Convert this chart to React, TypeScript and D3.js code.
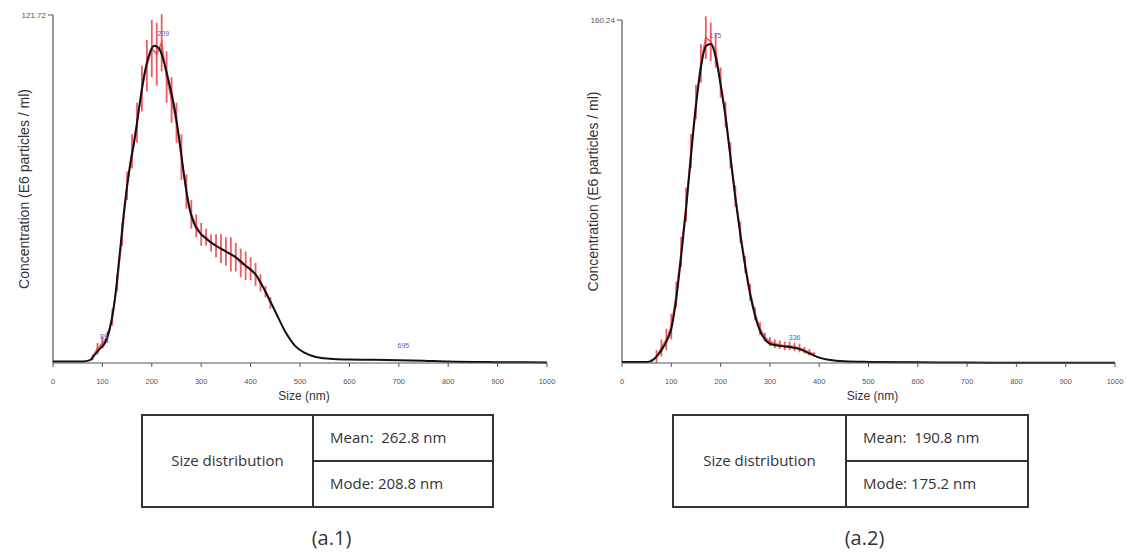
import React from 'react';
import * as d3 from 'd3';

// ---------- data ----------
const xTicks = [0, 100, 200, 300, 400, 500, 600, 700, 800, 900, 1000];

// (a.1)
const a1YMax = 121.72;
const a1Sizes = [0, 60, 75, 85, 95, 105, 115, 125, 135, 145, 155, 165, 175, 185, 195, 205, 215, 225, 235, 245, 255, 265, 275, 285, 295, 310, 330, 350, 370, 390, 410, 430, 450, 470, 490, 510, 530, 560, 600, 650, 700, 750, 800, 900, 1000];
const a1Conc = [0.5, 0.5, 1, 3, 5, 7, 12, 22, 38, 55, 68, 78, 90, 101, 108, 111, 110, 105, 98, 90, 79, 66, 55, 49, 46, 43.5, 41, 39, 37, 34, 31, 25, 18, 11, 6, 3.5, 2.2, 1.5, 1.2, 1.1, 1.0, 0.8, 0.5, 0.3, 0.2];
const a1ErrSizes = [80, 90, 100, 110, 120, 130, 140, 150, 160, 170, 180, 190, 200, 210, 220, 230, 240, 250, 260, 270, 280, 290, 300, 310, 320, 330, 340, 350, 360, 370, 380, 390, 400, 410, 420, 430, 440];
const a1ErrMean = [2, 5, 7, 9, 16, 28, 45, 62, 74, 84, 96, 104, 110, 108, 112, 100, 92, 84, 72, 60, 52, 48, 45, 44, 42, 41, 40, 39, 38, 37, 35, 34, 33, 31, 28, 25, 21];
const a1ErrHalf = [1, 2, 2, 2, 3, 3, 4, 5, 6, 7, 8, 9, 10, 11, 10, 9, 8, 7, 8, 6, 5, 4, 4, 3, 3, 4, 5, 5, 6, 5, 5, 5, 4, 4, 3, 2, 2];
const a1PeakSizes = [89, 209, 695];
const a1PeakConc = [7, 113, 4];
const a1Stats = ['Mean:  262.8 nm', 'Mode: 208.8 nm'];
const a1Caption = '(a.1)';

// (a.2)
const a2YMax = 160.24;
const a2Sizes = [0, 50, 60, 70, 80, 90, 100, 110, 120, 130, 140, 150, 160, 170, 180, 190, 200, 210, 220, 230, 240, 250, 260, 270, 280, 290, 300, 320, 340, 360, 380, 400, 420, 450, 500, 600, 700, 800, 1000];
const a2Conc = [0.5, 0.5, 1, 3, 6, 10, 16, 30, 50, 72, 97, 120, 138, 148, 149, 143, 130, 115, 96, 77, 60, 45, 32, 22, 15, 11, 9, 8, 7.5, 6.5, 4.5, 2.5, 1.5, 0.8, 0.5, 0.3, 0.2, 0.15, 0.1];
const a2ErrSizes = [60, 70, 80, 90, 100, 110, 120, 130, 140, 150, 160, 170, 180, 190, 200, 210, 220, 230, 240, 250, 260, 270, 280, 290, 300, 310, 320, 330, 340, 350, 360, 370, 380, 390];
const a2ErrMean = [1, 3, 7, 11, 17, 32, 52, 74, 99, 122, 140, 152, 150, 146, 131, 116, 97, 78, 61, 46, 33, 23, 16, 12, 10, 9, 8.5, 8, 8, 7.5, 7, 6, 5, 4];
const a2ErrHalf = [1, 3, 4, 5, 6, 6, 7, 8, 8, 8, 9, 10, 9, 8, 7, 6, 6, 5, 5, 4, 4, 3, 3, 2, 2, 2, 2, 2, 2, 2, 2, 1.5, 1.5, 1];
const a2PeakSizes = [175, 336];
const a2PeakConc = [150, 9];
const a2Stats = ['Mean:  190.8 nm', 'Mode: 175.2 nm'];
const a2Caption = '(a.2)';

const yTitle = 'Concentration (E6 particles / ml)';
const xTitle = 'Size (nm)';
const tableLabel = 'Size distribution';

type PanelProps = {
  x0: number; x1: number; yTop: number; yBottom: number;
  yMax: number; sizes: number[]; conc: number[];
  eSizes: number[]; eMean: number[]; eHalf: number[];
  peakSizes: number[]; peakConc: number[];
  stats: string[]; caption: string;
  tLeft: number; tDiv: number; tRight: number; tTop: number; tBottom: number;
};

function Panel(p: PanelProps) {
  const x = d3.scaleLinear().domain([0, 1000]).range([p.x0, p.x1]);
  const y = d3.scaleLinear().domain([0, p.yMax]).range([p.yBottom, p.yTop]);
  const lineGen = d3.line<number>()
    .x((_, i) => x(p.sizes[i]))
    .y((d) => y(d))
    .curve(d3.curveMonotoneX);
  const redGen = d3.line<number>()
    .x((_, i) => x(p.eSizes[i]))
    .y((d) => y(d))
    .curve(d3.curveLinear);
  const tMid = (p.tTop + p.tBottom) / 2;
  const axisFont = 'Liberation Sans, Arial, sans-serif';
  const tableFont = '"Open Sans", Lato, sans-serif';
  return (
    <g>
      {/* y title */}
      <text
        transform={`translate(${p.x0 - 24},${(p.yTop + p.yBottom) / 2 + 0}) rotate(-90)`}
        textAnchor="middle" fontFamily={axisFont} fontSize={14} fill="#333"
      >{yTitle}</text>
      {/* y axis */}
      <line x1={p.x0} x2={p.x0} y1={p.yTop} y2={p.yBottom} stroke="#555" strokeWidth={1.2} />
      <line x1={p.x0 - 5} x2={p.x0} y1={p.yTop} y2={p.yTop} stroke="#555" strokeWidth={1} />
      <text x={p.x0 - 7} y={p.yTop + 3} textAnchor="end" fontFamily={axisFont} fontSize={8} fill="#555">
        {p.yMax.toFixed(2)}
      </text>
      {/* red error bars */}
      <path d={redGen(p.eMean) || ''} fill="none" stroke="#e8343f" strokeWidth={1.8} strokeOpacity={0.75} />
      {p.eSizes.map((s, i) => (
        <line key={'e' + i} x1={x(s)} x2={x(s)}
          y1={y(p.eMean[i] - p.eHalf[i])} y2={y(p.eMean[i] + p.eHalf[i])}
          stroke="#e8343f" strokeWidth={1.8} strokeOpacity={0.8} />
      ))}
      {/* black curve */}
      <path d={lineGen(p.conc) || ''} fill="none" stroke="#111" strokeWidth={2} />
      {/* x axis */}
      <line x1={p.x0} x2={p.x1} y1={p.yBottom} y2={p.yBottom} stroke="#555" strokeWidth={1.2} />
      {xTicks.map((t) => (
        <g key={'t' + t}>
          <line x1={x(t)} x2={x(t)} y1={p.yBottom} y2={p.yBottom + 4} stroke="#555" strokeWidth={1} />
          <text x={x(t)} y={p.yBottom + 21} textAnchor="middle" fontFamily={axisFont} fontSize={7.5} fill="#555">{t}</text>
        </g>
      ))}
      <text x={(p.x0 + p.x1) / 2 + 4} y={p.yBottom + 37} textAnchor="middle" fontFamily={axisFont} fontSize={12} fill="#333">{xTitle}</text>
      {/* peak labels */}
      {p.peakSizes.map((s, i) => (
        <text key={'p' + i} x={x(s) + 7} y={y(p.peakConc[i]) - 4} textAnchor="middle"
          fontFamily={axisFont} fontSize={7} fill="#5a5ad0">{s}</text>
      ))}
      {/* table */}
      <rect x={p.tLeft} y={p.tTop} width={p.tRight - p.tLeft} height={p.tBottom - p.tTop}
        fill="none" stroke="#333" strokeWidth={2} />
      <line x1={p.tDiv} x2={p.tDiv} y1={p.tTop} y2={p.tBottom} stroke="#333" strokeWidth={2} />
      <line x1={p.tDiv} x2={p.tRight} y1={tMid} y2={tMid} stroke="#333" strokeWidth={2} />
      <text x={(p.tLeft + p.tDiv) / 2} y={tMid + 5} textAnchor="middle" fontFamily={tableFont} fontSize={15} fill="#333">{tableLabel}</text>
      <text x={p.tDiv + 17} y={(p.tTop + tMid) / 2 + 5} fontFamily={tableFont} fontSize={15} fill="#333" style={{ whiteSpace: 'pre' }}>{p.stats[0]}</text>
      <text x={p.tDiv + 17} y={(tMid + p.tBottom) / 2 + 5} fontFamily={tableFont} fontSize={15} fill="#333" style={{ whiteSpace: 'pre' }}>{p.stats[1]}</text>
      <text x={(p.tLeft + p.tRight) / 2 + 14} y={p.tBottom + 38} textAnchor="middle" fontFamily={tableFont} fontSize={20} fill="#333">{p.caption}</text>
    </g>
  );
}

export default function App() {
  return (
    <svg width={1135} height={552} style={{ position: 'absolute', left: 0, top: 0, background: '#fff' }}>
      <rect width={1135} height={552} fill="#fff" />
      <Panel x0={53} x1={547} yTop={15} yBottom={363} yMax={a1YMax}
        sizes={a1Sizes} conc={a1Conc} eSizes={a1ErrSizes} eMean={a1ErrMean} eHalf={a1ErrHalf}
        peakSizes={a1PeakSizes} peakConc={a1PeakConc} stats={a1Stats} caption={a1Caption}
        tLeft={142} tDiv={313} tRight={493} tTop={415} tBottom={507} />
      <Panel x0={622} x1={1115} yTop={20} yBottom={363} yMax={a2YMax}
        sizes={a2Sizes} conc={a2Conc} eSizes={a2ErrSizes} eMean={a2ErrMean} eHalf={a2ErrHalf}
        peakSizes={a2PeakSizes} peakConc={a2PeakConc} stats={a2Stats} caption={a2Caption}
        tLeft={673} tDiv={846} tRight={1028} tTop={415} tBottom={507} />
    </svg>
  );
}
